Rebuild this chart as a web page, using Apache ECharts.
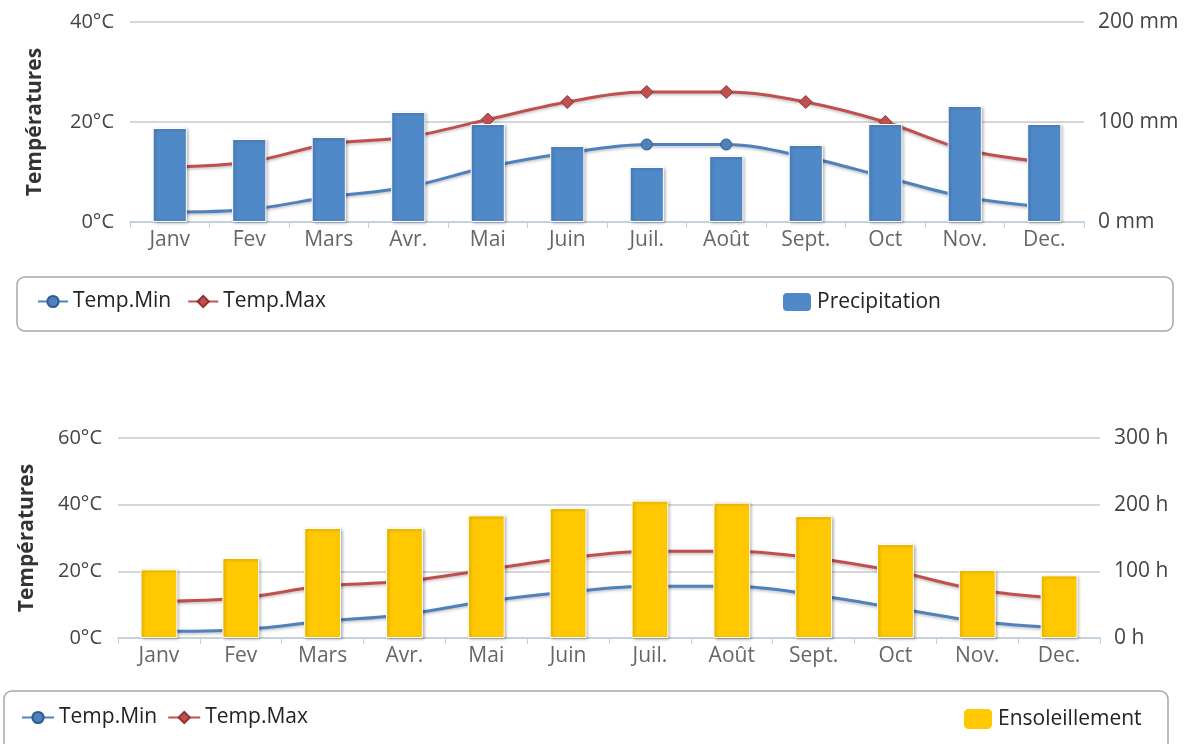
<!DOCTYPE html>
<html>
<head>
<meta charset="utf-8">
<script src="https://cdn.jsdelivr.net/npm/echarts@6/dist/echarts.min.js"></script>
<style>
html,body{margin:0;padding:0;background:#fff;}
#c{width:1191px;height:744px;}
</style>
</head>
<body>
<div id="c"></div>
<script>
const months = ['Janv','Fev','Mars','Avr.','Mai','Juin','Juil.','Août','Sept.','Oct','Nov.','Dec.'];
const tempMin = [2, 2.5, 5, 7, 11, 13.8, 15.5, 15.5, 13, 9, 5, 3];
const tempMax = [11, 12, 15.6, 17, 20.5, 24, 26, 26, 24, 20, 14.5, 12];
const precipitation = [94, 83, 85, 110, 98, 76, 55, 66, 77, 98, 116, 98];
const sunshine = [103, 120, 165, 165, 184, 195, 206, 203, 183, 141, 102, 94];
const tempTicks1 = {min: 0, max: 40, interval: 20};
const precTicks = {min: 0, max: 200, interval: 100};
const tempTicks2 = {min: 0, max: 60, interval: 20};
const sunTicks = {min: 0, max: 300, interval: 100};

const FONT = 'Open Sans';
const blue = '#4F81BD', red = '#C0504D', barBlue = '#5089C8', gold = '#FFC800';

function xAxis(grid){
  return {
    type:'category', gridIndex:grid, data:months, boundaryGap:true,
    axisLine:{lineStyle:{color:'#C0D0E0', width:1.5}},
    axisTick:{show:true, length:6, lineStyle:{color:'#C0D0E0'}},
    axisLabel:{color:'#666', fontFamily:FONT, fontSize:21, margin:8}
  };
}
function yLeft(grid, t, gap){
  return {
    type:'value', gridIndex:grid, min:t.min, max:t.max, interval:t.interval,
    name:'Températures', nameLocation:'middle', nameRotate:90, nameGap:gap,
    nameTextStyle:{color:'#333', fontFamily:FONT, fontSize:21, fontWeight:'bold'},
    axisLabel:{formatter:'{value}°C', color:'#444', fontFamily:FONT, fontSize:20, margin:16},
    axisLine:{show:false}, axisTick:{show:false},
    splitLine:{lineStyle:{color:'#C8C8C8', width:1.5}}
  };
}
function yRight(grid, t, unit){
  return {
    type:'value', gridIndex:grid, position:'right', min:t.min, max:t.max, interval:t.interval,
    axisLabel:{formatter:'{value} '+unit, color:'#444', fontFamily:FONT, fontSize:21, margin:14},
    axisLine:{show:false}, axisTick:{show:false}, splitLine:{show:false}
  };
}
function lineSeries(name, data, xi, yi, color, symbol, size, border){
  return {
    name, type:'line', xAxisIndex:xi, yAxisIndex:yi, data, smooth:0.35, z:2,
    symbol, symbolSize:size,
    lineStyle:{color, width:3, shadowColor:'rgba(0,0,0,0.25)', shadowBlur:3, shadowOffsetY:1.5},
    itemStyle:{color, borderColor:border, borderWidth:1}
  };
}
function barSeries(name, data, xi, yi, color, w){
  return {
    name, type:'bar', xAxisIndex:xi, yAxisIndex:yi, data, barWidth:w, z:4,
    itemStyle:{color, borderColor:'#fff', borderWidth:1,
      shadowColor:'rgba(0,0,0,0.3)', shadowBlur:3, shadowOffsetX:1.5, shadowOffsetY:1}
  };
}
const legendText = {color:'#222', fontFamily:FONT, fontSize:21, fontWeight:500};

const chart = echarts.init(document.getElementById('c'), null, {renderer:'canvas'});
chart.setOption({
  animation:false,
  backgroundColor:'#fff',
  grid:[
    {left:130, right:107, top:22, height:200},
    {left:118, right:91, top:438, height:200}
  ],
  xAxis:[xAxis(0), xAxis(1)],
  yAxis:[yLeft(0, tempTicks1, 84), yRight(0, precTicks, 'mm'), yLeft(1, tempTicks2, 80), yRight(1, sunTicks, 'h')],
  graphic:[
    {type:'rect', shape:{x:17, y:277, width:1156, height:54, r:8}, style:{fill:'#fff', stroke:'#A8A8A8', lineWidth:1.5}, z:0},
    {type:'rect', shape:{x:4, y:691, width:1164, height:62, r:8}, style:{fill:'#fff', stroke:'#A8A8A8', lineWidth:1.5}, z:0}
  ],
  legend:[
    {data:['Temp.Min','Temp.Max'], left:32, top:286, itemWidth:30, itemHeight:14, itemGap:16, textStyle:legendText},
    {data:[{name:'Precipitation', icon:'roundRect'}], left:776, top:286, itemWidth:30, itemHeight:20, textStyle:legendText},
    {data:['Temp.Min','Temp.Max'], left:16, top:702, itemWidth:32, itemHeight:14, itemGap:10, textStyle:legendText},
    {data:[{name:'Ensoleillement', icon:'roundRect'}], left:957, top:702, itemWidth:30, itemHeight:22, textStyle:legendText}
  ],
  series:[
    lineSeries('Temp.Min', tempMin, 0, 0, blue, 'circle', 11, '#2F5C8F'),
    lineSeries('Temp.Max', tempMax, 0, 0, red, 'diamond', 13, '#8F3330'),
    barSeries('Precipitation', precipitation, 0, 1, barBlue, '43%'),
    lineSeries('Temp.Min', tempMin, 1, 2, blue, 'circle', 11, '#2F5C8F'),
    lineSeries('Temp.Max', tempMax, 1, 2, red, 'diamond', 13, '#8F3330'),
    barSeries('Ensoleillement', sunshine, 1, 3, gold, '45%')
  ]
});
</script>
</body>
</html>
